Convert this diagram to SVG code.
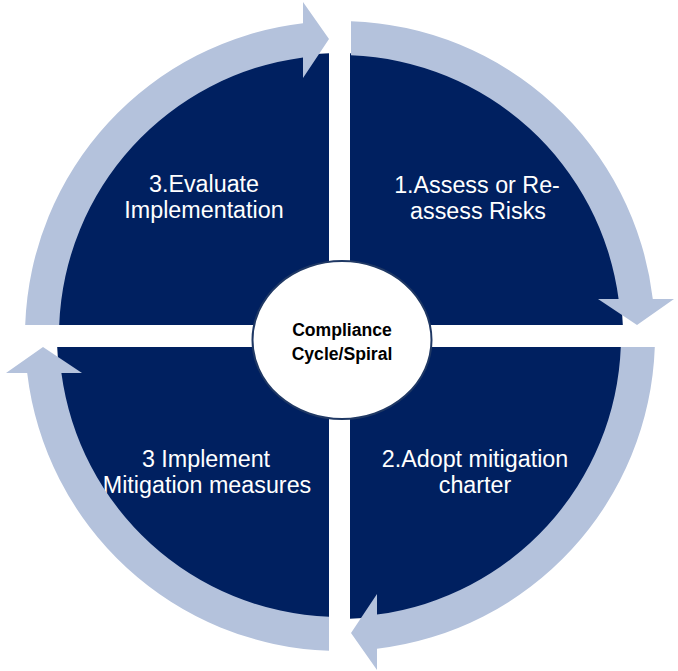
<svg xmlns="http://www.w3.org/2000/svg" xmlns:xlink="http://www.w3.org/1999/xlink" width="678" height="671" viewBox="0 0 678 671">
  <style>
    .quad { fill: #002060; }
    .band { fill: #B4C2DC; }
    .lbl { font-family: "Liberation Sans", Arial, sans-serif; font-size: 23.3px; fill: #FFFFFF; text-anchor: middle; }
    .ctr { font-family: "Liberation Sans", Arial, sans-serif; font-size: 17.6px; font-weight: bold; fill: #000000; text-anchor: middle; }
  </style>
  <defs>
    <path id="arc-arrow" d="M -314.8,-11 A 315,315 0 0 1 -37,-312.8 L -37,-334 L -11,-297 L -37,-258 L -37,-278.6 A 281,281 0 0 0 -280.8,-11 Z"/>
  </defs>
  <rect width="678" height="671" fill="#FFFFFF"/>

  <g id="quadrant-evaluate">
    <path class="quad" d="M329,325 L57.2,325 A283,283 0 0 1 329,53.2 Z"/>
    <text class="lbl" x="204" y="192">3.Evaluate</text>
    <text class="lbl" x="204" y="218">Implementation</text>
  </g>
  <g id="quadrant-assess">
    <path class="quad" d="M350,325 L350,53.2 A283,283 0 0 1 622.8,325 Z"/>
    <text class="lbl" x="477" y="193">1.Assess or Re-</text>
    <text class="lbl" x="478" y="219">assess Risks</text>
  </g>
  <g id="quadrant-adopt">
    <path class="quad" d="M350,347 L622.8,347 A283,283 0 0 1 350,618.8 Z"/>
    <text class="lbl" x="475" y="467">2.Adopt mitigation</text>
    <text class="lbl" x="475" y="493">charter</text>
  </g>
  <g id="quadrant-implement">
    <path class="quad" d="M329,347 L329,618.8 A283,283 0 0 1 57.2,347 Z"/>
    <text class="lbl" x="206" y="467">3 Implement</text>
    <text class="lbl" x="207" y="493">Mitigation measures</text>
  </g>

  <g id="connectors" transform="translate(340,336)">
    <use xlink:href="#arc-arrow" href="#arc-arrow" class="band"/>
    <use xlink:href="#arc-arrow" href="#arc-arrow" class="band" transform="rotate(90)"/>
    <use xlink:href="#arc-arrow" href="#arc-arrow" class="band" transform="rotate(180)"/>
    <use xlink:href="#arc-arrow" href="#arc-arrow" class="band" transform="rotate(270)"/>
  </g>

  <g id="center">
    <ellipse cx="342" cy="340" rx="89.5" ry="79" fill="#FFFFFF" stroke="#1F3864" stroke-width="2"/>
    <text class="ctr" x="342" y="336">Compliance</text>
    <text class="ctr" x="342" y="360">Cycle/Spiral</text>
  </g>
</svg>
